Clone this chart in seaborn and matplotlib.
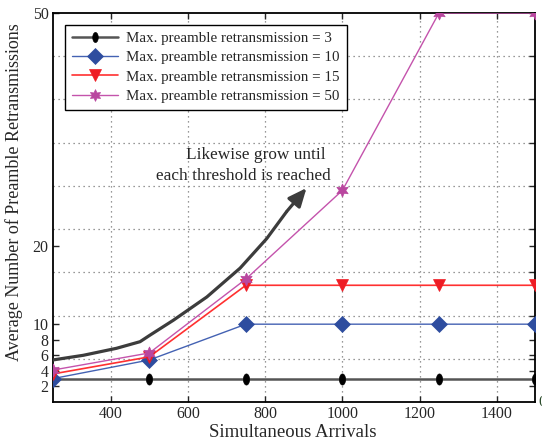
import numpy as np
import pandas as pd
import seaborn as sns
import matplotlib
matplotlib.use("Agg")
import matplotlib.pyplot as plt
from matplotlib.path import Path

# ---- data ----
arrivals = [250, 500, 750, 1000, 1250, 1500]
retx_3 = [3, 3, 3, 3, 3, 3]
retx_10 = [3.0, 5.4, 10, 10, 10, 10]
retx_15 = [3.6, 5.8, 15, 15, 15, 15]
retx_50 = [4.1, 6.3, 15.8, 27.2, 50, 50]
labels = ["Max. preamble retransmission = 3",
          "Max. preamble retransmission = 10",
          "Max. preamble retransmission = 15",
          "Max. preamble retransmission = 50"]

# annotation trend curve
trend_x = [250, 329, 415, 476, 502, 562, 649, 735, 804, 856]
trend_y = [5.4, 6.0, 6.9, 7.75, 8.6, 10.5, 13.5, 17.2, 21.0, 24.5]
arrow_tip = (907, 27.5)

x_ticks = [400, 600, 800, 1000, 1200, 1400]
y_ticks = [2, 4, 6, 8, 10, 20, 50]
y_grid = [k * 50 / 9 for k in range(1, 9)]

sns.set_style("ticks")
plt.rcParams['font.family'] = ['Liberation Serif', 'DejaVu Serif']
plt.rcParams['mathtext.fontset'] = 'stix'

fig = plt.figure(figsize=(5.42, 4.46), dpi=100)
ax = fig.add_axes([0.0974, 0.0987, 0.8906, 0.8722])

t = np.linspace(0, 2 * np.pi, 40)
ellipse = Path(np.column_stack([0.55 * np.cos(t), np.sin(t)]), closed=True)

styles = [
    dict(color="#555555", lw=1.8, marker=ellipse, ms=8, mfc="black", mec="black"),
    dict(color="#4462b3", lw=1.0, marker="D", ms=8.5, mfc="#2e4d9f", mec="#2e4d9f"),
    dict(color="#ff3030", lw=1.2, marker="v", ms=9, mfc="#ee1c24", mec="#ee1c24"),
    dict(color="#c453ac", lw=1.0, marker=(6, 1, 0), ms=9.5, mfc="#b9479f", mec="#b9479f"),
]
series = [retx_3, retx_10, retx_15, retx_50]
for vals, lab, st in zip(series, labels, styles):
    df = pd.DataFrame({"x": arrivals, "y": vals})
    sns.lineplot(data=df, x="x", y="y", ax=ax, label=lab, color=st["color"],
                 lw=st["lw"], marker=st["marker"], markersize=st["ms"],
                 markerfacecolor=st["mfc"], markeredgecolor=st["mec"],
                 markeredgewidth=0.5, zorder=3)

# trend curve + arrow
ax.plot(trend_x, trend_y, color="#3c3c3c", lw=2.3, zorder=4, solid_capstyle="butt")
ax.annotate("", xy=arrow_tip, xytext=(trend_x[-1], trend_y[-1]),
            arrowprops=dict(arrowstyle="-|>,head_length=0.5,head_width=0.22",
                            color="#3c3c3c", lw=2.3,
                            mutation_scale=22, shrinkA=0, shrinkB=0), zorder=4)
ax.text(776, 31.7, "Likewise grow until", ha="center", va="center", fontsize=12.4)
ax.text(744, 29.1, "each threshold is reached", ha="center", va="center", fontsize=12.4)

ax.set_xlim(250, 1500)
ax.set_ylim(0, 50)
ax.set_xticks(x_ticks)
ax.set_yticks(y_ticks)
ax.set_yticks(y_grid, minor=True)
ax.tick_params(axis="both", which="major", direction="in", length=4, width=1,
               labelsize=11.4, top=True, right=True, pad=3)
ax.tick_params(axis="y", which="minor", direction="in", length=4, width=1,
               left=False, right=True)
ax.grid(False)
ax.xaxis.grid(True, which="major", linestyle=(0, (1, 3)), color="#777777", lw=0.9)
ax.yaxis.grid(True, which="minor", linestyle=(0, (1, 3)), color="#777777", lw=0.9)
for sp in ax.spines.values():
    sp.set_linewidth(1.3)
    sp.set_color("black")

ax.set_xlabel("Simultaneous Arrivals", fontsize=13.5)
ax.set_ylabel("Average Number of Preamble Retransmissions", fontsize=13)
ax.xaxis.set_label_coords(0.498, -0.057)
ax.yaxis.set_label_coords(-0.062, 0.54)

leg = ax.legend(loc="upper left", bbox_to_anchor=(0.025, 0.969), borderaxespad=0,
                fontsize=10.8, frameon=True, fancybox=False, framealpha=1,
                edgecolor="black", handlelength=3.1, handletextpad=0.55,
                labelspacing=0.38, borderpad=0.45)
leg.get_frame().set_linewidth(1.0)
for h in leg.legend_handles:
    h.set_markersize(h.get_markersize() * 0.9)

fig.text(0.993, 0.097, "0", color="#2a4a2a", ha="left", va="center", fontsize=11)

fig.savefig("out.png", dpi=100)
